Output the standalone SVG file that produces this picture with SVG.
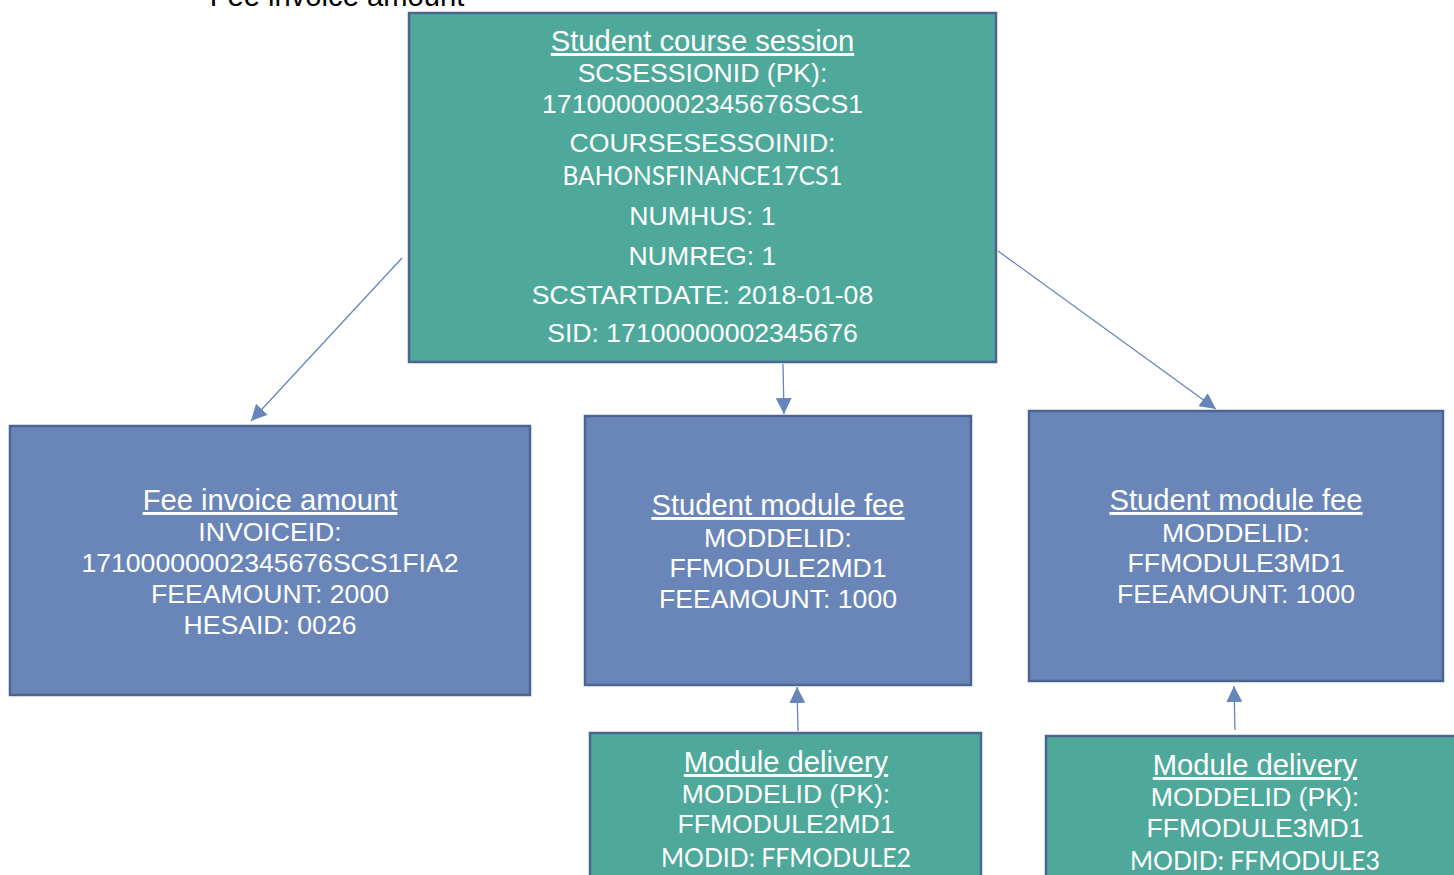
<svg xmlns="http://www.w3.org/2000/svg" width="1454" height="875" viewBox="0 0 1454 875">
<style>
.teal{fill:#4ea99a;stroke:#4b6591;stroke-width:2.5}
.blue{fill:#6a86b8;stroke:#4b6591;stroke-width:2.5}
text{font-family:"Liberation Sans",Arial,sans-serif;fill:#ffffff;text-anchor:middle;font-size:26.6px}
.t{font-size:29.2px;text-decoration:underline}
.c{font-family:Lato,"Open Sans",sans-serif}
.conn{stroke:#6585bb;stroke-width:1.3;fill:none;marker-end:url(#ah)}
</style>
<defs>
<marker id="ah" markerUnits="userSpaceOnUse" markerWidth="18" markerHeight="16" refX="16" refY="8" orient="auto">
<path d="M0,0 L16,8 L0,16 Z" fill="#6585bb"/>
</marker>
</defs>
<rect width="1454" height="875" fill="#ffffff"/>
<text x="337" y="6" style="fill:#000000;font-size:29.2px">Fee invoice amount</text>
<g id="connectors">
<line class="conn" x1="402" y1="258" x2="251" y2="421"/>
<line class="conn" x1="783" y1="364" x2="784" y2="414"/>
<line class="conn" x1="998" y1="251" x2="1216" y2="409"/>
<line class="conn" x1="798" y1="731" x2="797" y2="687"/>
<line class="conn" x1="1235" y1="730" x2="1234" y2="686"/>
</g>
<g id="student-course-session">
<rect class="teal" x="409" y="13" width="587" height="349"/>
<text class="t" x="702.5" y="51">Student course session</text>
<text x="702.5" y="82">SCSESSIONID (PK):</text>
<text x="702.5" y="113">17100000002345676SCS1</text>
<text x="702.5" y="152">COURSESESSOINID:</text>
<text class="c" x="702.5" y="185" textLength="280" lengthAdjust="spacingAndGlyphs">BAHONSFINANCE17CS1</text>
<text x="702.5" y="225">NUMHUS: 1</text>
<text x="702.5" y="265">NUMREG: 1</text>
<text x="702.5" y="304">SCSTARTDATE: 2018-01-08</text>
<text x="702.5" y="342">SID: 17100000002345676</text>
</g>
<g id="fee-invoice-amount">
<rect class="blue" x="10" y="426" width="520" height="269"/>
<text class="t" x="270" y="510">Fee invoice amount</text>
<text x="270" y="541">INVOICEID:</text>
<text x="270" y="572">17100000002345676SCS1FIA2</text>
<text x="270" y="603">FEEAMOUNT: 2000</text>
<text x="270" y="634">HESAID: 0026</text>
</g>
<g id="student-module-fee-1">
<rect class="blue" x="585" y="416" width="386" height="269"/>
<text class="t" x="778" y="515">Student module fee</text>
<text x="778" y="547">MODDELID:</text>
<text x="778" y="577">FFMODULE2MD1</text>
<text x="778" y="608">FEEAMOUNT: 1000</text>
</g>
<g id="student-module-fee-2">
<rect class="blue" x="1029" y="411" width="414" height="270"/>
<text class="t" x="1236" y="510">Student module fee</text>
<text x="1236" y="542">MODDELID:</text>
<text x="1236" y="572">FFMODULE3MD1</text>
<text x="1236" y="603">FEEAMOUNT: 1000</text>
</g>
<g id="module-delivery-1">
<rect class="teal" x="590" y="733" width="391" height="160"/>
<text class="t" x="786" y="772">Module delivery</text>
<text x="786" y="803">MODDELID (PK):</text>
<text x="786" y="833">FFMODULE2MD1</text>
<text class="c" x="786" y="867" textLength="250" lengthAdjust="spacingAndGlyphs">MODID: FFMODULE2</text>
</g>
<g id="module-delivery-2">
<rect class="teal" x="1046" y="736" width="420" height="160"/>
<text class="t" x="1255" y="775">Module delivery</text>
<text x="1255" y="806">MODDELID (PK):</text>
<text x="1255" y="837">FFMODULE3MD1</text>
<text class="c" x="1255" y="870" textLength="250" lengthAdjust="spacingAndGlyphs">MODID: FFMODULE3</text>
</g>
</svg>
